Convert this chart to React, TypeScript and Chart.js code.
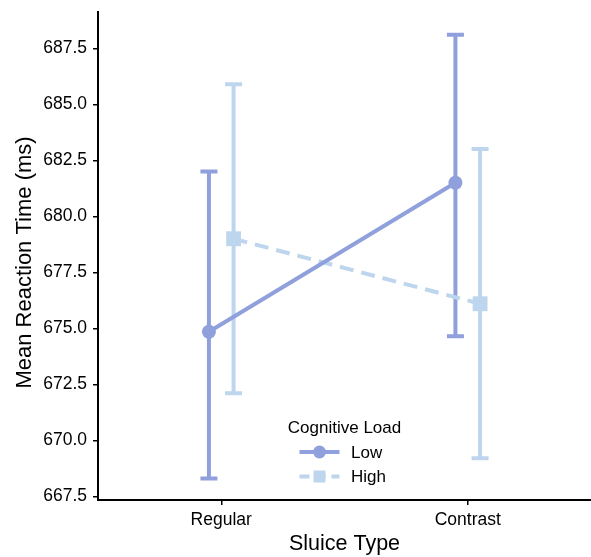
import React, { useEffect, useRef } from 'react';
import { Chart, registerables } from 'chart.js';

Chart.register(...registerables);

const categories = ['Regular', 'Contrast'];
const seriesNames = ['Low', 'High'];
const lowMean = [674.85, 681.5];
const lowLower = [668.3, 674.65];
const lowUpper = [682.0, 688.1];
const highMean = [679.0, 676.1];
const highLower = [672.1, 669.2];
const highUpper = [685.9, 683.0];
const yTicks = [667.5, 670.0, 672.5, 675.0, 677.5, 680.0, 682.5, 685.0, 687.5];
const legendTitle = 'Cognitive Load';
const xTitle = 'Sluice Type';
const yTitle = 'Mean Reaction Time (ms)';

const LOW_COLOR = 'rgb(143,160,220)';
const HIGH_COLOR = 'rgb(189,214,237)';
const DODGE = 0.05;
const FONT = "'Liberation Sans', Arial, Helvetica, sans-serif";
const HIGH_DASH = [14, 8];

const seriesStyle = [
  { color: LOW_COLOR, dash: [] as number[], pointStyle: 'circle', radius: 7 },
  { color: HIGH_COLOR, dash: HIGH_DASH, pointStyle: 'rect', radius: 10.5 },
];

const errorBarPlugin = {
  id: 'errorBars',
  beforeDatasetsDraw(chart: any) {
    const { ctx, scales } = chart;
    const xs = scales.x;
    const ys = scales.y;
    const all = [
      { lo: lowLower, hi: lowUpper, off: -DODGE, color: LOW_COLOR },
      { lo: highLower, hi: highUpper, off: DODGE, color: HIGH_COLOR },
    ];
    ctx.save();
    all.forEach((s) => {
      ctx.strokeStyle = s.color;
      ctx.lineWidth = 4;
      ctx.lineCap = 'butt';
      ctx.setLineDash([]);
      s.lo.forEach((lo, i) => {
        const x = xs.getPixelForValue(i + 1 + s.off);
        const y1 = ys.getPixelForValue(lo);
        const y2 = ys.getPixelForValue(s.hi[i]);
        ctx.beginPath();
        ctx.moveTo(x, y1);
        ctx.lineTo(x, y2);
        ctx.moveTo(x - 8.5, y1);
        ctx.lineTo(x + 8.5, y1);
        ctx.moveTo(x - 8.5, y2);
        ctx.lineTo(x + 8.5, y2);
        ctx.stroke();
      });
    });
    ctx.restore();
  },
};

const legendPlugin = {
  id: 'customLegend',
  afterDraw(chart: any) {
    const { ctx, chartArea } = chart;
    const cx = (chartArea.left + chartArea.right) / 2;
    const bottom = chartArea.bottom;
    ctx.save();
    // y-axis title
    ctx.save();
    ctx.translate(24.5, (chartArea.top + chartArea.bottom) / 2 + 6.5);
    ctx.rotate(-Math.PI / 2);
    ctx.fillStyle = '#000';
    ctx.font = `22px ${FONT}`;
    ctx.textAlign = 'center';
    ctx.textBaseline = 'middle';
    ctx.fillText(yTitle, 0, 0);
    ctx.restore();
    // legend
    ctx.fillStyle = '#000';
    ctx.font = `17px ${FONT}`;
    ctx.textAlign = 'center';
    ctx.textBaseline = 'alphabetic';
    ctx.fillText(legendTitle, cx, bottom - 67);
    seriesNames.forEach((name, i) => {
      const st = seriesStyle[i];
      const y = bottom - 48 + i * 24.5;
      const x1 = cx - 45;
      const x2 = cx - 5;
      ctx.strokeStyle = st.color;
      ctx.lineWidth = 4;
      ctx.setLineDash(st.dash.length ? [10, 6] : []);
      ctx.beginPath();
      ctx.moveTo(x1, y);
      ctx.lineTo(x2, y);
      ctx.stroke();
      ctx.setLineDash([]);
      ctx.fillStyle = st.color;
      const mx = (x1 + x2) / 2;
      if (st.pointStyle === 'circle') {
        ctx.beginPath();
        ctx.arc(mx, y, 6.5, 0, Math.PI * 2);
        ctx.fill();
      } else {
        ctx.fillRect(mx - 6, y - 6, 12, 12);
      }
      ctx.fillStyle = '#000';
      ctx.textAlign = 'left';
      ctx.textBaseline = 'middle';
      ctx.fillText(name, cx + 6.5, y + 1);
    });
    ctx.restore();
  },
};

export default function App() {
  const ref = useRef<HTMLCanvasElement | null>(null);
  useEffect(() => {
    if (!ref.current) return;
    const means = [lowMean, highMean];
    const chart = new Chart(ref.current, {
      type: 'line',
      data: {
        datasets: seriesNames.map((name, si) => ({
          label: name,
          data: means[si].map((y, i) => ({ x: i + 1 + (si === 0 ? -DODGE : DODGE), y })),
          borderColor: seriesStyle[si].color,
          backgroundColor: seriesStyle[si].color,
          borderWidth: 4,
          borderDash: seriesStyle[si].dash,
          pointStyle: seriesStyle[si].pointStyle as any,
          pointRadius: seriesStyle[si].radius,
          pointBorderWidth: 0,
          pointBackgroundColor: seriesStyle[si].color,
          fill: false,
          tension: 0,
        })),
      },
      options: {
        animation: false,
        responsive: false,
        maintainAspectRatio: false,
        layout: { autoPadding: false, padding: { top: 12, left: 0, right: 0, bottom: 0 } },
        plugins: { legend: { display: false }, tooltip: { enabled: false } },
        scales: {
          x: {
            type: 'linear',
            position: 'bottom',
            min: 0.5,
            max: 2.5,
            afterFit: (s: any) => { s.height = 57; s.paddingLeft = 0; s.paddingRight = 0; },
            afterBuildTicks: (s: any) => { s.ticks = categories.map((_, i) => ({ value: i + 1 })); },
            ticks: {
              callback: (v: any) => categories[Math.round(Number(v)) - 1] ?? '',
              font: { size: 17.5, family: FONT },
              color: '#000',
              padding: 5,
              maxRotation: 0,
            },
            grid: { drawOnChartArea: false, drawTicks: true, tickLength: 5, color: '#000', lineWidth: 1.5 },
            border: { display: true, color: '#000', width: 2 },
            title: { display: true, text: xTitle, font: { size: 21.5, family: FONT }, color: '#000', padding: { top: 0, bottom: 0 } },
          },
          y: {
            type: 'linear',
            position: 'left',
            min: 667.34,
            max: 689.12,
            afterFit: (s: any) => { s.width = 98; s.paddingTop = 0; s.paddingBottom = 0; },
            afterBuildTicks: (s: any) => { s.ticks = yTicks.map((v) => ({ value: v })); },
            ticks: {
              callback: (v: any) => Number(v).toFixed(1),
              font: { size: 17.5, family: FONT },
              color: '#000',
              padding: 6,
            },
            grid: { drawOnChartArea: false, drawTicks: true, tickLength: 5, color: '#000', lineWidth: 1.5 },
            border: { display: true, color: '#000', width: 2 },
            title: { display: false, text: yTitle },
          },
        },
      },
      plugins: [errorBarPlugin, legendPlugin],
    } as any);
    return () => chart.destroy();
  }, []);
  return (
    <div style={{ position: 'absolute', left: 0, top: 0, width: 591, height: 557, background: '#fff' }}>
      <canvas ref={ref} width={591} height={557} style={{ width: 591, height: 557, display: 'block' }} />
    </div>
  );
}
